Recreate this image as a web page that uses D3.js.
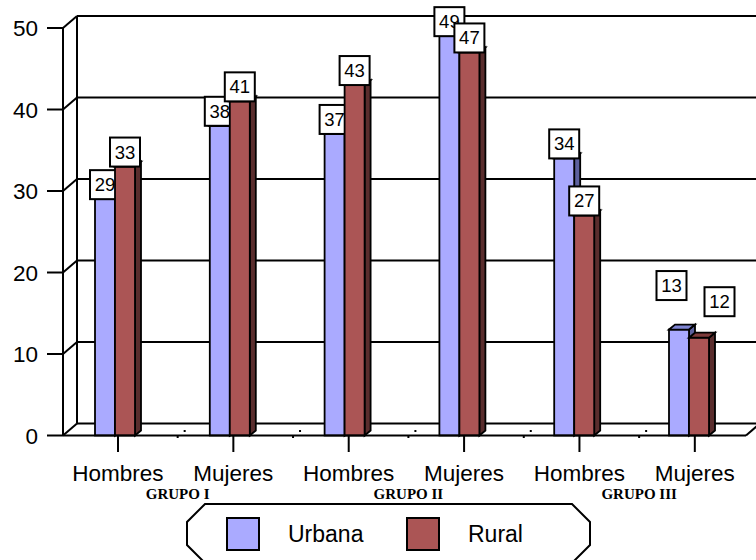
<!DOCTYPE html>
<html>
<head>
<meta charset="utf-8">
<script src="https://cdn.jsdelivr.net/npm/d3@7/dist/d3.min.js"></script>
<style>
  html, body { margin: 0; padding: 0; background: #ffffff; }
  svg { display: block; }
</style>
</head>
<body>
<svg id="chart" width="756" height="560"></svg>
<script>
// Población por grupo, sexo y zona
const categories = ["Hombres", "Mujeres", "Hombres", "Mujeres", "Hombres", "Mujeres"];
const groups = ["GRUPO I", "GRUPO II", "GRUPO III"];
const seriesNames = ["Urbana", "Rural"];
const urbana = [29, 38, 37, 49, 34, 13];
const rural = [33, 41, 43, 47, 27, 12];
const yTicks = [0, 10, 20, 30, 40, 50];

const FONT = "Arial, 'Liberation Sans', sans-serif";
const SERIF = "'Times New Roman', 'Liberation Serif', serif";
const fills = {
  Urbana: { front: "#aaaaff", top: "#7e84d2", side: "#5d619e" },
  Rural:  { front: "#ab5555", top: "#7e3b3b", side: "#5a2d2d" }
};

const svg = d3.select("#chart");

// 3D frame geometry
const depthX = 14, depthY = -12;      // wall depth offset
const barDX = 6, barDY = -5;          // bar depth offset
const axisX = 63;
const floorRight = 746;

const y = d3.scaleLinear().domain([0, 50]).range([435.5, 28]);
// category axis (ticks and labels)
const x = d3.scaleBand().domain(d3.range(categories.length)).range([60.3, 752.5]).padding(0);
const tickX = i => x(i) + x.bandwidth() / 2;
// bar pairs sit slightly forward-left of the tick positions
const xBar = d3.scaleBand().domain(d3.range(categories.length)).range([57.6, 746.4]).padding(0);
const barCenter = i => xBar(i) + xBar.bandwidth() / 2;
const barW = 20;

const frame = svg.append("g").attr("stroke", "#000").attr("stroke-width", 2).attr("fill", "none");

// back wall gridlines + side wall connectors + y ticks
yTicks.forEach(v => {
  const yy = y(v);
  frame.append("line").attr("x1", axisX + depthX).attr("x2", 770)
    .attr("y1", yy + depthY).attr("y2", yy + depthY);
  frame.append("line").attr("x1", axisX).attr("x2", axisX + depthX)
    .attr("y1", yy).attr("y2", yy + depthY);
  frame.append("line").attr("x1", axisX - 16).attr("x2", axisX)
    .attr("y1", yy).attr("y2", yy);
});
// back-left wall edge and front value axis
frame.append("line").attr("x1", axisX + depthX).attr("x2", axisX + depthX)
  .attr("y1", y(50) + depthY).attr("y2", y(0) + depthY);
frame.append("line").attr("x1", axisX).attr("x2", axisX)
  .attr("y1", y(50)).attr("y2", y(0));

// y tick labels
svg.append("g").selectAll("text").data(yTicks).join("text")
  .attr("x", 38).attr("y", d => y(d) + 8)
  .attr("text-anchor", "end")
  .attr("font-family", FONT).attr("font-size", 22.5).attr("fill", "#000")
  .text(d => d);

// small floor marks between categories
const marks = svg.append("g").attr("fill", "#000");
for (let i = 0; i < categories.length - 1; i++) {
  const bx = (tickX(i) + tickX(i + 1)) / 2;
  marks.append("rect").attr("x", bx + 1).attr("y", y(0) + 0.5).attr("width", 2).attr("height", 2);
  marks.append("rect").attr("x", bx + 8).attr("y", y(0) - 5.5).attr("width", 2).attr("height", 2);
}

// label nudges for the last pair of bars
const labelNudge = { "5-0": [-7.5, -29.5], "5-1": [20.5, -21.5] };

function drawBar(g, x0, v, c) {
  const x1 = x0 + barW, yt = y(v), yb = y(0);
  g.append("polygon")
    .attr("points", [[x1, yt], [x1 + barDX, yt + barDY], [x1 + barDX, yb + barDY], [x1, yb]].join(" "))
    .attr("fill", c.side);
  g.append("rect").attr("x", x0).attr("y", yt).attr("width", barW).attr("height", yb - yt)
    .attr("fill", c.front);
  g.append("polygon")
    .attr("points", [[x0, yt], [x0 + barDX, yt + barDY], [x1 + barDX, yt + barDY], [x1, yt]].join(" "))
    .attr("fill", c.top);
}

function drawLabel(g, cx, v, key) {
  const [dx, dy] = labelNudge[key] || [0, 0];
  const w = 30, h = 29;
  const bx = cx - w / 2 + dx, by = y(v) - h + dy;
  g.append("rect").attr("x", bx).attr("y", by).attr("width", w).attr("height", h)
    .attr("fill", "#fff").attr("stroke", "#000").attr("stroke-width", 2);
  g.append("text").attr("x", bx + w / 2).attr("y", by + h / 2 + 6.5)
    .attr("text-anchor", "middle").attr("font-family", FONT).attr("font-size", 18.5)
    .attr("fill", "#000").attr("stroke", "none").text(v);
}

const bars = svg.append("g").attr("stroke", "#000").attr("stroke-width", 1.8).attr("stroke-linejoin", "miter");
categories.forEach((cat, i) => {
  const pc = barCenter(i);
  [urbana, rural].forEach((vals, s) => {
    const x0 = pc - barW + s * barW;
    const g = bars.append("g");
    drawBar(g, x0, vals[i], fills[seriesNames[s]]);
    drawLabel(g, x0 + barW / 2, vals[i], i + "-" + s);
  });
});

// front floor edge and category ticks
const floor = svg.append("g").attr("stroke", "#000").attr("stroke-width", 2).attr("fill", "none");
floor.append("line").attr("x1", axisX).attr("x2", floorRight).attr("y1", y(0)).attr("y2", y(0));
floor.append("line").attr("x1", floorRight).attr("x2", floorRight + depthX)
  .attr("y1", y(0)).attr("y2", y(0) + depthY);
categories.forEach((c, i) => {
  floor.append("line").attr("x1", tickX(i)).attr("x2", tickX(i))
    .attr("y1", y(0)).attr("y2", y(0) + 16.5);
});

// category labels
svg.append("g").selectAll("text").data(categories).join("text")
  .attr("x", (d, i) => tickX(i)).attr("y", 481)
  .attr("text-anchor", "middle").attr("font-family", FONT).attr("font-size", 22.5)
  .attr("fill", "#000").text(d => d);

// group labels
svg.append("g").selectAll("text").data(groups).join("text")
  .attr("x", (d, i) => (tickX(2 * i) + tickX(2 * i + 1)) / 2 + 2)
  .attr("y", 498.5)
  .attr("text-anchor", "middle").attr("font-family", SERIF).attr("font-weight", "bold")
  .attr("font-size", 15).attr("fill", "#000").text(d => d);

// legend
const lg = svg.append("g");
const L = { x0: 187, x1: 590, y0: 504, y1: 563, cut: 18 };
lg.append("polygon")
  .attr("points", [
    [L.x0 + L.cut, L.y0], [L.x1 - L.cut, L.y0], [L.x1, L.y0 + L.cut], [L.x1, L.y1 - L.cut],
    [L.x1 - L.cut, L.y1], [L.x0 + L.cut, L.y1], [L.x0, L.y1 - L.cut], [L.x0, L.y0 + L.cut]
  ].join(" "))
  .attr("fill", "#fff").attr("stroke", "#000").attr("stroke-width", 2);
const legendPos = [{ sx: 227, tx: 288 }, { sx: 407, tx: 468 }];
seriesNames.forEach((name, i) => {
  lg.append("rect").attr("x", legendPos[i].sx).attr("y", 518).attr("width", 32).attr("height", 32)
    .attr("fill", fills[name].front).attr("stroke", "#000").attr("stroke-width", 2);
  lg.append("text").attr("x", legendPos[i].tx).attr("y", 542)
    .attr("font-family", FONT).attr("font-size", 23).attr("fill", "#000").text(name);
});
</script>
</body>
</html>
